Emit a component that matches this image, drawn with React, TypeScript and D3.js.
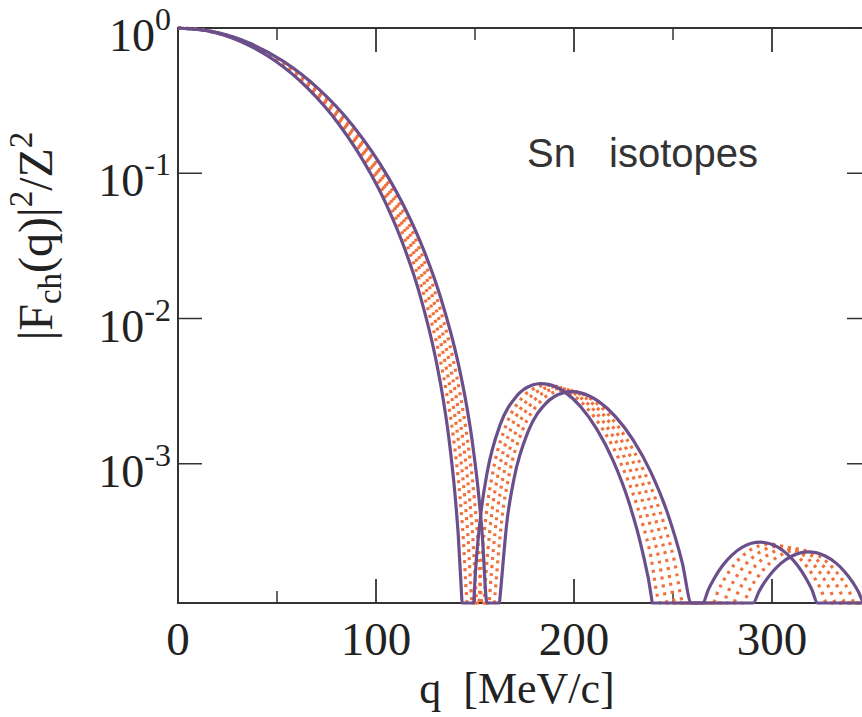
import React from 'react';
import * as d3 from 'd3';

// q in MeV/c, value = log10(|F_ch(q)|^2 / Z^2); -4 marks a point below the axis minimum (diffraction zero)
const qMajorTicks = [0, 100, 200, 300];
const qMinorTicks = [50, 150, 250];
const yDecades = [0, -1, -2, -3];

// heavier isotope (purple, first zero at lower q)
const snHeavy: [number, number][] = [
  [0, 0], [16.27, -0.024], [32.54, -0.098], [48.81, -0.224], [65.08, -0.409], [81.35, -0.664], [97.62, -1.011],
  [105.76, -1.231], [113.89, -1.497], [122.03, -1.83], [130.16, -2.277], [133.41, -2.513], [136.67, -2.809],
  [139.92, -3.214], [141.55, -3.493], [143.18, -3.891], [143.5, -4],
  [149.36, -4], [149.68, -3.871], [152.94, -3.347], [156.19, -3.057], [162.7, -2.732], [170.84, -2.537],
  [178.97, -2.458], [183.04, -2.448], [187.11, -2.453], [195.24, -2.505], [203.38, -2.608], [211.51, -2.762],
  [219.65, -2.975], [227.78, -3.267], [234.29, -3.588], [239.17, -3.924], [239.5, -4],
  [265, -4], [267.9, -3.865], [270.8, -3.79], [275.15, -3.699], [279.5, -3.632], [285.3, -3.572], [294, -3.54],
  [302.7, -3.572], [308.5, -3.632], [312.85, -3.699], [317.2, -3.79], [320.1, -3.865], [323, -4], [360, -4],
];

// lighter isotope (purple, first zero at higher q)
const snLight: [number, number][] = [
  [0, 0], [17.69, -0.025], [35.37, -0.1], [53.06, -0.228], [70.74, -0.416], [88.43, -0.675], [106.11, -1.027],
  [114.95, -1.25], [123.8, -1.519], [132.64, -1.855], [141.48, -2.305], [145.02, -2.543], [148.55, -2.84],
  [152.09, -3.247], [153.86, -3.527], [155.63, -3.926], [156.0, -4],
  [162.35, -4], [162.7, -3.909], [166.24, -3.386], [169.78, -3.098], [176.85, -2.777], [185.69, -2.586],
  [194.54, -2.512], [198.96, -2.504], [203.38, -2.512], [212.22, -2.569], [221.06, -2.677], [229.91, -2.837],
  [238.75, -3.056], [247.59, -3.354], [254.66, -3.68], [259.3, -4],
  [290.5, -4], [293.3, -3.883], [296.1, -3.819], [300.3, -3.743], [304.5, -3.686], [310.1, -3.635], [318.5, -3.607],
  [326.9, -3.635], [332.5, -3.686], [336.7, -3.743], [340.9, -3.819], [343.7, -3.883], [346.5, -4], [360, -4],
];

// intermediate isotopes (orange, dotted)
const snMid1: [number, number][] = [
  [0, 0], [16.55, -0.025], [33.11, -0.098], [49.66, -0.225], [66.21, -0.411], [82.77, -0.666], [99.32, -1.014],
  [107.59, -1.235], [115.87, -1.502], [124.15, -1.835], [132.42, -2.282], [135.73, -2.519], [139.05, -2.815],
  [142.36, -3.221], [144.01, -3.5], [145.67, -3.899], [146.0, -4],
  [151.96, -4], [152.29, -3.879], [155.6, -3.355], [158.91, -3.065], [165.53, -2.741], [173.81, -2.546],
  [182.08, -2.469], [186.22, -2.459], [190.36, -2.465], [198.64, -2.518], [206.91, -2.622], [215.19, -2.777],
  [223.47, -2.991], [231.74, -3.284], [238.36, -3.607], [243.5, -4],
  [270.1, -4], [273.0, -3.868], [275.9, -3.795], [280.2, -3.707], [284.5, -3.642], [290.3, -3.584], [298.9, -3.553],
  [307.5, -3.584], [313.3, -3.642], [317.6, -3.707], [321.9, -3.795], [324.8, -3.868], [327.7, -4], [360, -4],
];
const snMid2: [number, number][] = [
  [0, 0], [16.84, -0.025], [33.67, -0.099], [50.51, -0.226], [67.34, -0.412], [84.18, -0.669], [101.02, -1.017],
  [109.43, -1.239], [117.85, -1.506], [126.27, -1.84], [134.69, -2.288], [138.06, -2.525], [141.42, -2.821],
  [144.79, -3.227], [146.47, -3.507], [148.16, -3.905], [148.5, -4],
  [154.55, -4], [154.89, -3.886], [158.26, -3.363], [161.63, -3.073], [168.36, -2.75], [176.78, -2.556],
  [185.2, -2.48], [189.41, -2.47], [193.61, -2.477], [202.03, -2.531], [210.45, -2.636], [218.87, -2.792],
  [227.29, -3.008], [235.7, -3.302], [242.44, -3.625], [247.4, -4],
  [275.2, -4], [278.1, -3.872], [280.9, -3.802], [285.2, -3.717], [289.5, -3.654], [295.2, -3.598], [303.8, -3.567],
  [312.4, -3.598], [318.1, -3.654], [322.4, -3.717], [326.7, -3.802], [329.5, -3.872], [332.4, -4], [360, -4],
];
const snMid3: [number, number][] = [
  [0, 0], [17.12, -0.025], [34.24, -0.099], [51.36, -0.227], [68.48, -0.414], [85.6, -0.671], [102.71, -1.02],
  [111.27, -1.243], [119.83, -1.51], [128.39, -1.845], [136.95, -2.294], [140.38, -2.531], [143.8, -2.828],
  [147.22, -3.234], [148.94, -3.514], [150.65, -3.912], [151.0, -4],
  [157.15, -4], [157.49, -3.894], [160.92, -3.371], [164.34, -3.081], [171.19, -2.759], [179.75, -2.566],
  [188.31, -2.49], [192.59, -2.482], [196.87, -2.489], [205.43, -2.543], [213.99, -2.649], [222.55, -2.807],
  [231.11, -3.024], [239.67, -3.319], [246.51, -3.643], [251.3, -4],
  [280.3, -4], [283.1, -3.876], [286.0, -3.807], [290.2, -3.725], [294.5, -3.664], [300.2, -3.61], [308.7, -3.58],
  [317.2, -3.61], [322.9, -3.664], [327.2, -3.725], [331.4, -3.807], [334.3, -3.876], [337.1, -4], [360, -4],
];
const snMid4: [number, number][] = [
  [0, 0], [17.4, -0.025], [34.8, -0.099], [52.21, -0.227], [69.61, -0.415], [87.01, -0.673], [104.41, -1.024],
  [113.11, -1.246], [121.81, -1.515], [130.52, -1.85], [139.22, -2.299], [142.7, -2.537], [146.18, -2.834],
  [149.66, -3.24], [151.4, -3.52], [153.14, -3.919], [153.5, -4],
  [159.75, -4], [160.1, -3.901], [163.58, -3.378], [167.06, -3.089], [174.02, -2.768], [182.72, -2.576],
  [191.42, -2.501], [195.77, -2.493], [200.12, -2.5], [208.82, -2.556], [217.53, -2.663], [226.23, -2.822],
  [234.93, -3.04], [243.63, -3.337], [250.59, -3.662], [255.3, -4],
  [285.4, -4], [288.2, -3.88], [291.0, -3.814], [295.3, -3.735], [299.5, -3.676], [305.1, -3.623], [313.6, -3.594],
  [322.1, -3.623], [327.7, -3.676], [331.9, -3.735], [336.2, -3.814], [339.0, -3.88], [341.8, -4], [360, -4],
];

const orangeCurves = [snMid1, snMid2, snMid3, snMid4];
const purpleCurves = [snHeavy, snLight];

const W = 862;
const H = 717;
const X0 = 178, X1 = 871, Y0 = 28, Y1 = 603;
const Y_MIN = 1.1e-4;
const AXIS = '#333333';
const PURPLE = '#6a4f8b';
const ORANGE = '#f2703b';
const SERIF = '"Liberation Serif", "Times New Roman", Times, serif';
const SANS = '"Liberation Sans", Arial, Helvetica, sans-serif';

export default function App() {
  const x = d3.scaleLinear().domain([0, 350]).range([X0, X1]);
  const y = d3.scaleLog().domain([Y_MIN, 1]).range([Y1, Y0]);
  const line = d3
    .line<[number, number]>()
    .x((d) => x(d[0]))
    .y((d) => y(Math.max(Math.pow(10, d[1]), Y_MIN)))
    .curve(d3.curveMonotoneX);

  return (
    <svg width={W} height={H} style={{ position: 'absolute', left: 0, top: 0, background: '#fff' }}>
      <defs>
        <clipPath id="plotClip">
          <rect x={X0 - 2} y={0} width={X1 - X0 + 4} height={Y1 + 6} />
        </clipPath>
      </defs>
      <rect x={0} y={0} width={W} height={H} fill="#fff" />
      {/* frame */}
      <rect x={X0} y={Y0} width={X1 - X0} height={Y1 - Y0} fill="none" stroke={AXIS} strokeWidth={2} />
      {/* x ticks */}
      {qMajorTicks.map((t) => (
        <g key={'mx' + t}>
          <line x1={x(t)} x2={x(t)} y1={Y1} y2={Y1 - 24} stroke={AXIS} strokeWidth={1.8} />
          <line x1={x(t)} x2={x(t)} y1={Y0} y2={Y0 + 24} stroke={AXIS} strokeWidth={1.8} />
          <text x={x(t)} y={655} textAnchor="middle" fontFamily={SERIF} fontSize={47} fill="#222">
            {t}
          </text>
        </g>
      ))}
      {qMinorTicks.map((t) => (
        <g key={'mn' + t}>
          <line x1={x(t)} x2={x(t)} y1={Y1} y2={Y1 - 12} stroke={AXIS} strokeWidth={1.5} />
          <line x1={x(t)} x2={x(t)} y1={Y0} y2={Y0 + 12} stroke={AXIS} strokeWidth={1.5} />
        </g>
      ))}
      {/* y ticks */}
      {yDecades.map((e) => (
        <g key={'y' + e}>
          <line x1={X0} x2={X0 + 24} y1={y(Math.pow(10, e))} y2={y(Math.pow(10, e))} stroke={AXIS} strokeWidth={1.5} />
          <line x1={X1} x2={X1 - 24} y1={y(Math.pow(10, e))} y2={y(Math.pow(10, e))} stroke={AXIS} strokeWidth={1.5} />
          <text x={171} y={y(Math.pow(10, e)) + 23} textAnchor="end" fontFamily={SERIF} fontSize={46} fill="#222">
            <tspan>10</tspan>
            <tspan dy={-21} fontSize={32}>{e}</tspan>
          </text>
        </g>
      ))}
      {/* curves */}
      <g clipPath="url(#plotClip)">
        {orangeCurves.map((c, i) => (
          <path key={'o' + i} d={line(c) || ''} fill="none" stroke={ORANGE} strokeWidth={3.2} strokeDasharray="3 5" />
        ))}
        {purpleCurves.map((c, i) => (
          <path key={'p' + i} d={line(c) || ''} fill="none" stroke={PURPLE} strokeWidth={3.2} strokeLinejoin="round" />
        ))}
      </g>
      {/* annotation */}
      <text y={167} fontFamily={SANS} fontSize={40} fill="#333">
        <tspan x={527}>Sn</tspan>
        <tspan x={609}>isotopes</tspan>
      </text>
      {/* axis titles */}
      <text x={517} y={703} textAnchor="middle" fontFamily={SERIF} fontSize={44} fill="#222">
        q{'\u00a0\u00a0'}[MeV/c]
      </text>
      <text transform="translate(52,236) rotate(-90)" textAnchor="middle" fontFamily={SERIF} fontSize={48} fill="#222">
        <tspan>|F</tspan>
        <tspan fontSize={33} dy={9}>ch</tspan>
        <tspan dy={-9}>(q)|</tspan>
        <tspan fontSize={33} dy={-20}>2</tspan>
        <tspan dy={20}>/Z</tspan>
        <tspan fontSize={33} dy={-20}>2</tspan>
      </text>
    </svg>
  );
}
